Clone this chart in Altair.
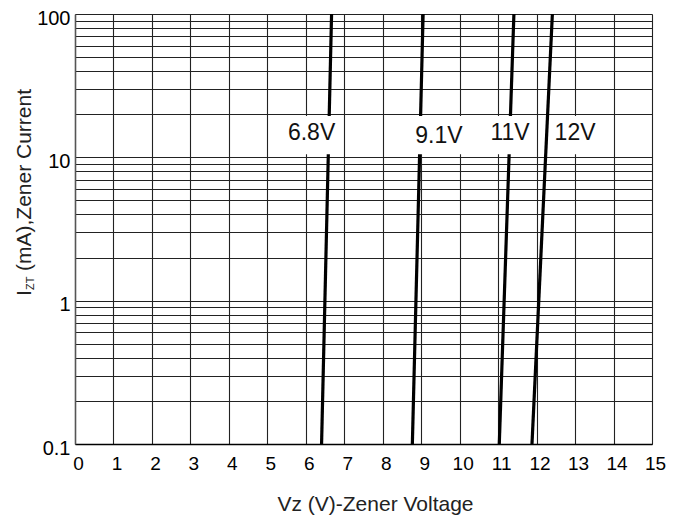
import altair as alt
import pandas as pd

# Zener curves: (series, voltage, current mA)
SERIES = ["6.8V", "6.8V", "9.1V", "9.1V", "11V", "11V", "12V", "12V"]
VZ = [6.41, 6.67, 8.77, 9.05, 11.03, 11.41, 11.88, 12.41]
IZ = [0.1, 100, 0.1, 100, 0.1, 100, 0.1, 100]

# curve labels
LAB_TEXT = ["6.8V", "9.1V", "11V", "12V"]
LAB_X = [6.15, 9.46, 11.31, 13.0]
LAB_Y = [14.7, 14.2, 14.7, 14.7]
BOX_X0 = [5.05, 8.55, 10.45, 12.45]
BOX_X1 = [6.97, 10.45, 11.9, 13.7]
BOX_Y0 = [10.5, 10.5, 10.5, 10.5]
BOX_Y1 = [19.4, 19.4, 19.4, 19.4]

X_TICKS = list(range(0, 16))
Y_GRID = [0.1, 0.2, 0.3, 0.4, 0.5, 0.6, 0.7, 0.8, 0.9,
          1, 2, 3, 4, 5, 6, 7, 8, 9,
          10, 20, 30, 40, 50, 60, 70, 80, 90, 100]

FONT = "Liberation Sans"

curves = pd.DataFrame({"s": SERIES, "v": VZ, "i": IZ})
labels = pd.DataFrame({"t": LAB_TEXT, "v": LAB_X, "i": LAB_Y,
                       "x0": BOX_X0, "x1": BOX_X1, "y0": BOX_Y0, "y1": BOX_Y1})

xscale = alt.Scale(domain=[0, 15], nice=False, zero=False)
yscale = alt.Scale(type="log", domain=[0.1, 100], nice=False)

xaxis = alt.Axis(values=X_TICKS, grid=True, ticks=False, title="Vz (V)-Zener Voltage",
                 labelFlush=False, labelPadding=10, labelOffset=3, labelFontSize=19,
                 labelFont=FONT, labelColor="black", labelOverlap=False,
                 titleFont=FONT, titleFontSize=21, titleFontWeight="normal",
                 titleColor="#222", titleX=300, titleY=66, titleBaseline="alphabetic",
                 titleAlign="center", gridColor="#222", gridWidth=1.1,
                 domainColor="black", domainWidth=1.5)
yaxis = alt.Axis(values=Y_GRID, grid=True, ticks=False, title="",
                 labelExpr="(datum.value == 0.1 || datum.value == 1 || datum.value == 10 || datum.value == 100) ? datum.label : ''",
                 labelPadding=5, labelOffset=4, labelFontSize=20, labelFont=FONT,
                 labelColor="black", labelOverlap=False, labelFlush=False,
                 gridColor="#222", gridWidth=1.1, domainColor="#555", domainWidth=1.5)

lines = alt.Chart(curves).mark_line(color="black", strokeWidth=3.2).encode(
    x=alt.X("v:Q", scale=xscale, axis=xaxis),
    y=alt.Y("i:Q", scale=yscale, axis=yaxis),
    detail="s:N",
)

boxes = alt.Chart(labels).mark_rect(color="white", opacity=1).encode(
    x=alt.X("x0:Q", scale=xscale, axis=xaxis),
    x2="x1:Q",
    y=alt.Y("y0:Q", scale=yscale, axis=yaxis),
    y2="y1:Q",
)

texts = alt.Chart(labels).mark_text(font=FONT, fontSize=23, align="center",
                                    baseline="middle", color="#111").encode(
    x=alt.X("v:Q", scale=xscale, axis=xaxis),
    y=alt.Y("i:Q", scale=yscale, axis=yaxis),
    text="t:N",
)

# y-axis title with subscript, built from text pieces
t_main = pd.DataFrame({"t": ["I"]})
t_sub = pd.DataFrame({"t": ["ZT"]})
t_rest = pd.DataFrame({"t": ["(mA),Zener Current"]})

ytitle_i = alt.Chart(t_main).mark_text(font=FONT, fontSize=21, angle=270, align="left",
                                       baseline="alphabetic", color="#222").encode(
    x=alt.value(-44), y=alt.value(282), text="t:N")
ytitle_sub = alt.Chart(t_sub).mark_text(font=FONT, fontSize=11, angle=270, align="left",
                                        baseline="alphabetic", color="#222").encode(
    x=alt.value(-41.5), y=alt.value(276), text="t:N")
ytitle_rest = alt.Chart(t_rest).mark_text(font=FONT, fontSize=21, angle=270, align="left",
                                          baseline="alphabetic", color="#222").encode(
    x=alt.value(-44), y=alt.value(257), text="t:N")

chart = alt.layer(lines, boxes, texts, ytitle_i, ytitle_sub, ytitle_rest).properties(
    width=577, height=430,
    padding={"left": 67, "top": 6, "right": 21, "bottom": 73},
    autosize=alt.AutoSizeParams(type="none"),
).configure_view(stroke="black", strokeWidth=1).configure(background="white")

chart.save("out.html", embed_options={"renderer": "svg", "actions": False})
